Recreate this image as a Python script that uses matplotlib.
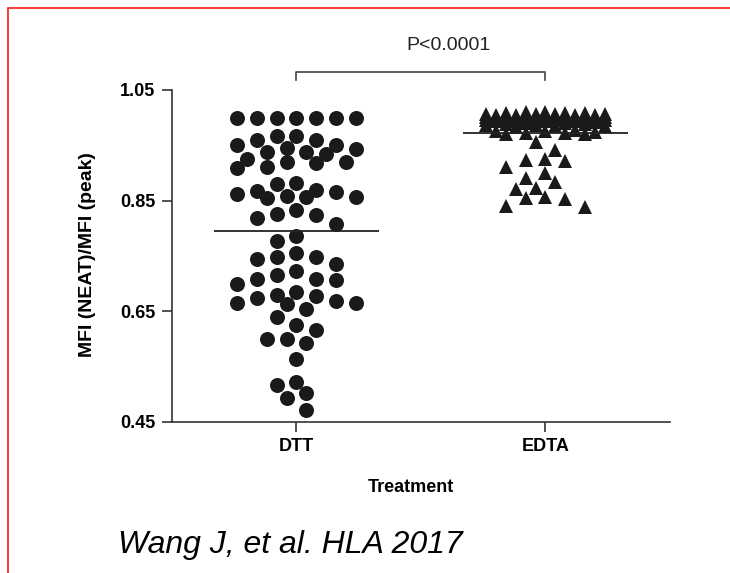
import numpy as np
import matplotlib.pyplot as plt
from matplotlib.patches import Rectangle

plt.rcParams['font.family'] = ['Liberation Sans', 'DejaVu Sans']

groups = ['DTT', 'EDTA']
y_ticks = [0.45, 0.65, 0.85, 1.05]
p_label = 'P<0.0001'
citation = 'Wang J, et al. HLA 2017'

# MFI ratio (neat / peak) per bead after each treatment
dtt = [1.000, 1.000, 1.000, 1.000, 1.000, 1.000, 1.000,
       0.966, 0.966, 0.959, 0.960,
       0.950, 0.937, 0.945, 0.937, 0.950, 0.943, 0.935,
       0.920, 0.920, 0.918, 0.925, 0.908, 0.911, 0.880, 0.881,
       0.868, 0.862, 0.855, 0.857, 0.856, 0.859, 0.866, 0.869,
       0.825, 0.818, 0.824, 0.808, 0.832, 0.785, 0.777,
       0.755, 0.747, 0.735, 0.744, 0.748,
       0.723, 0.708, 0.707, 0.699, 0.708, 0.716,
       0.677, 0.668, 0.664, 0.684, 0.679, 0.663, 0.640, 0.654, 0.665, 0.673,
       0.625, 0.616, 0.599, 0.599, 0.593, 0.564,
       0.522, 0.501, 0.517, 0.492, 0.472]

edta = [1.011, 1.010, 1.009, 1.008, 1.008, 1.007, 1.007, 1.006, 1.006,
        1.005, 1.005, 1.004, 1.004, 1.003, 1.003, 1.003, 1.002, 1.002,
        1.001, 1.001, 1.001, 1.000, 1.000, 1.000, 1.000, 0.999, 0.999,
        0.998, 0.998, 0.997, 0.997, 0.996, 0.996, 0.995, 0.995, 0.994,
        0.994, 0.993, 0.993,
        0.992, 0.991, 0.990, 0.989, 0.988, 0.987, 0.986, 0.985, 0.984, 0.983,
        0.978, 0.976, 0.975, 0.974, 0.973, 0.972, 0.971, 0.970,
        0.956, 0.941, 0.911, 0.925, 0.922, 0.923, 0.900, 0.890,
        0.884, 0.872, 0.856, 0.852, 0.839, 0.840, 0.854, 0.870]

fig = plt.figure(figsize=(7.3, 5.73), dpi=100)
ax = fig.add_axes([0.2356, 0.2641, 0.6822, 0.5789])
ax.set_xlim(0.5, 2.5)
ax.set_ylim(0.45, 1.05)


def swarm_x(values, center, step=0.04, slots=6, diam=15):
    # greedy scatter layout: half-column steps, at most 3 columns either side
    vals = np.asarray(values, dtype=float)
    ypx = ax.transData.transform(np.column_stack([np.full(len(vals), center), vals]))[:, 1]
    sx = ax.transData.transform([(center + step, 0)])[0, 0] - ax.transData.transform([(center, 0)])[0, 0]
    cand = [0] + [s * k for k in range(1, slots + 1) for s in (-1, 1)]
    placed = []
    xs = np.empty(len(vals))
    for i in np.argsort(-vals, kind='stable'):
        best, best_gap = 0, -1.0
        for c in cand:
            gap = min((np.hypot((c - pc) * sx, ypx[i] - py) for pc, py in placed), default=np.inf)
            if gap >= diam:
                best = c
                break
            if gap > best_gap:
                best, best_gap = c, gap
        placed.append((best, ypx[i]))
        xs[i] = center + best * step
    return xs


ax.plot(swarm_x(dtt, 1), dtt, 'o', ms=10.8, color='#1a1a1a', mew=0, clip_on=False)
ax.plot(swarm_x(edta, 2, diam=13), edta, '^', ms=10.5, color='#1a1a1a', mew=0, clip_on=False)

# group means
for pos, vals in zip([1, 2], [dtt, edta]):
    ax.hlines(np.mean(vals), pos - 0.333, pos + 0.333, color='#222222', lw=1.3)

# significance bracket
ax.plot([1, 1, 2, 2], [1.068, 1.0826, 1.0826, 1.068], color='#444444', lw=1.2, clip_on=False)
ax.text(1.61, 1.131, p_label, ha='center', va='center', fontsize=14, color='#222222')

for side in ['top', 'right']:
    ax.spines[side].set_visible(False)
for side in ['left', 'bottom']:
    ax.spines[side].set_color('#333333')
    ax.spines[side].set_linewidth(1.2)

ax.set_yticks(y_ticks)
ax.set_yticklabels([f'{t:.2f}' for t in y_ticks], fontweight='bold', fontsize=13)
ax.set_xticks([1, 2])
ax.set_xticklabels(groups, fontweight='bold', fontsize=13)
ax.tick_params(length=7, width=1.2, color='#333333', pad=5)

fig.text(87 / 730, 1 - 255 / 573, 'MFI (NEAT)/MFI (peak)', rotation=90,
         ha='center', va='center', fontweight='bold', fontsize=14)
fig.text(411 / 730, 1 - 488 / 573, 'Treatment', ha='center', va='center',
         fontweight='bold', fontsize=13)
fig.text(118 / 730, 1 - 545 / 573, citation, ha='left', va='center',
         style='italic', fontsize=23)

# red frame around the panel
fig.add_artist(Rectangle((8 / 730, -0.2), 1.5, 1.2 - 8 / 573, transform=fig.transFigure,
                         fill=False, ec='#ff2a2a', lw=1.3))

fig.savefig('out.png', dpi=100)
